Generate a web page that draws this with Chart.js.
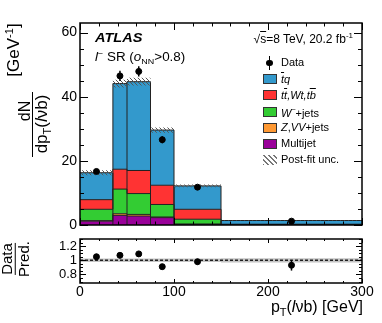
<!DOCTYPE html>
<html>
<head>
<meta charset="utf-8">
<script src="https://cdn.jsdelivr.net/npm/chart.js@4.4.0/dist/chart.umd.min.js"></script>
<style>
  body { margin: 0; background: #fff; }
  #wrap { position: relative; width: 382px; height: 323px; overflow: hidden;
          font-family: 'Liberation Sans', Arial, sans-serif; color: #000; }
  canvas { position: absolute; left: 0; }
  .t { position: absolute; white-space: nowrap; line-height: 1; }
  .rot { position: absolute; white-space: nowrap; line-height: 1;
         transform: translate(-50%, -50%) rotate(-90deg); }
  .box { position: absolute; left: 263px; width: 14px; height: 10px;
         box-sizing: border-box; border: 1px solid #333; }
  .lt { position: absolute; left: 281px; font-size: 11px; line-height: 1; white-space: nowrap; }
  .ol { text-decoration: overline; }
  .sub { font-size: 11px; position: relative; top: 4px; }
</style>
</head>
<body>
<div id="wrap">
  <canvas id="main" width="382" height="234" style="top:0"></canvas>
  <canvas id="ratio" width="382" height="89" style="top:234px"></canvas>

  <!-- y axis titles -->
  <div class="rot" style="left:13px; top:50px; font-size:17px">[GeV<sup style="font-size:11px">-1</sup>]</div>
  <div class="rot" style="left:25px; top:111px; font-size:16px">dN</div>
  <div style="position:absolute; left:32px; top:92px; width:1px; height:65px; background:#000"></div>
  <div class="rot" style="left:41px; top:124px; font-size:17px">dp<span class="sub">T</span>(<i>l</i>&nu;b)</div>
  <div class="rot" style="left:15px; top:259px; font-size:15px; line-height:1.05; text-align:center">
    <span style="border-bottom:1px solid #000; display:inline-block">Data</span><br>Pred.</div>

  <!-- x axis title -->
  <div class="t" style="right:19px; top:299px; font-size:16px">p<span class="sub">T</span>(<i>l</i>&nu;b) [GeV]</div>

  <!-- labels -->
  <div class="t" style="left:95px; top:31px; font-size:13px; font-weight:bold; font-style:italic; transform:scaleX(1.12); transform-origin:left">ATLAS</div>
  <div class="t" style="left:95px; top:50px; font-size:12px; transform:scaleX(1.12); transform-origin:left"><i>l</i><sup style="font-size:8px">&minus;</sup> SR (<i>o</i><span style="font-size:8px; position:relative; top:3px">NN</span>&gt;0.8)</div>
  <div class="t" style="right:29px; top:32px; font-size:12px">&radic;<span class="ol">s</span>=8 TeV, 20.2 fb<sup style="font-size:8px">-1</sup></div>

  <!-- legend -->
  <div style="position:absolute; left:268.5px; top:56px; width:1.5px; height:14px; background:#000"></div>
  <div style="position:absolute; left:266px; top:59.5px; width:6.5px; height:6.5px; border-radius:50%; background:#000"></div>
  <div class="lt" style="top:57px">Data</div>
  <div class="box" style="top:74px; background:#3399CC"></div>
  <div class="lt" style="top:73.5px"><i><span class="ol">t</span>q</i></div>
  <div class="box" style="top:90px; background:#FF3333"></div>
  <div class="lt" style="top:90px"><i>t<span class="ol">t</span>,Wt,t<span class="ol">b</span></i></div>
  <div class="box" style="top:106.5px; background:#33CC33"></div>
  <div class="lt" style="top:106px"><i>W</i><sup style="font-size:7px">&minus;</sup>+jets</div>
  <div class="box" style="top:122.5px; background:#FF9933"></div>
  <div class="lt" style="top:122px"><i>Z</i>,<i>VV</i>+jets</div>
  <div class="box" style="top:138.5px; background:#990099"></div>
  <div class="lt" style="top:138px">Multijet</div>
  <div class="box" style="top:154.5px; border:none; background:repeating-linear-gradient(45deg, #777 0 1px, #fff 1px 3.5px)"></div>
  <div class="lt" style="top:154px">Post-fit unc.</div>
</div>

<script>
// bin edges in pT(lvb) [GeV]
const binEdges = [0, 35, 50, 75, 100, 150, 300];
const binCentres = [17.5, 42.5, 62.5, 87.5, 125, 225];

// stacked predictions, dN/dpT [GeV^-1]
const multijet = [1.2, 3.0, 2.8, 2.3, 0.2, 0.02];
const zvvJets = [0.15, 0.5, 0.5, 0.2, 0.1, 0.02];
const wJets = [3.55, 7.7, 6.5, 3.9, 1.5, 0.06];
const ttbarWtTb = [3.0, 6.2, 7.2, 6.0, 3.1, 0.15];
const tq = [8.4, 26.7, 27.7, 17.2, 7.3, 1.15];
const postFitUnc = [0.8, 1.2, 1.2, 0.8, 0.4, 0.1];

// data
const dataVals = [16.7, 46.5, 47.9, 26.6, 11.8, 1.2];
const dataErr = [0.8, 1.6, 1.6, 1.1, 0.6, 0.15];

// ratio panel
const ratioVals = [1.05, 1.07, 1.09, 0.91, 0.98, 0.93];
const ratioErr = [0.04, 0.04, 0.035, 0.035, 0.04, 0.075];
const ratioUnc = [0.025, 0.025, 0.025, 0.025, 0.025, 0.03];

// tick labels
const mainTicks = [0, 20, 40, 60];
const ratioTicks = [0.8, 1, 1.2];
const xTicks = [0, 100, 200, 300];

const FONT = 'Liberation Sans';

// step points for a histogram
function hist(vals) {
  const pts = vals.map((v, i) => ({ x: binEdges[i], y: v }));
  pts.push({ x: binEdges[binEdges.length - 1], y: vals[vals.length - 1] });
  return pts;
}

const totals = tq.map((_, i) => multijet[i] + zvvJets[i] + wJets[i] + ttbarWtTb[i] + tq[i]);

function makeHatch() {
  const c = document.createElement('canvas');
  c.width = 4; c.height = 4;
  const g = c.getContext('2d');
  g.strokeStyle = '#555';
  g.lineWidth = 1;
  g.beginPath();
  for (let o = -4; o <= 4; o += 4) {
    g.moveTo(o, 0);
    g.lineTo(o + 4, 4);
  }
  g.stroke();
  return g.createPattern(c, 'repeat');
}
const hatch = makeHatch();

function histDataset(label, vals, colour, fill) {
  return {
    label: label,
    data: hist(vals),
    stepped: true,
    borderColor: '#222',
    borderWidth: 1,
    backgroundColor: colour,
    fill: fill,
    pointRadius: 0,
    order: 3
  };
}

// frame with inward ticks on all four sides
const framePlugin = {
  id: 'frame',
  afterDraw(chart, args, o) {
    const { ctx, chartArea: a } = chart;
    const xs = chart.scales.x, ys = chart.scales.y;
    ctx.save();
    ctx.strokeStyle = '#000';
    ctx.lineWidth = 1;
    ctx.beginPath();
    for (let v = xs.min; v <= xs.max; v += 20) {
      const px = Math.round(xs.getPixelForValue(v)) + 0.5;
      const len = v % 100 === 0 ? o.xMajor : o.xMinor;
      ctx.moveTo(px, a.bottom); ctx.lineTo(px, a.bottom - len);
      ctx.moveTo(px, a.top); ctx.lineTo(px, a.top + len);
    }
    const k0 = Math.ceil(ys.min / o.yMinorStep - 1e-6), k1 = Math.floor(ys.max / o.yMinorStep + 1e-6);
    for (let k = k0; k <= k1; k++) {
      const v = k * o.yMinorStep;
      const r = v / o.yMajorStep;
      const len = Math.abs(r - Math.round(r)) < 1e-6 ? o.yMajor : o.yMinor;
      const py = Math.round(ys.getPixelForValue(v)) + 0.5;
      ctx.moveTo(a.left, py); ctx.lineTo(a.left + len, py);
      ctx.moveTo(a.right, py); ctx.lineTo(a.right - len, py);
    }
    ctx.stroke();
    ctx.lineWidth = 1.5;
    ctx.strokeRect(a.left, a.top, a.width, a.height);
    ctx.restore();
  }
};

// vertical error bars for datasets carrying an "errors" array
const errorBars = {
  id: 'errorBars',
  afterDatasetsDraw(chart) {
    const ctx = chart.ctx;
    chart.data.datasets.forEach((ds, i) => {
      if (!ds.errors) return;
      const meta = chart.getDatasetMeta(i);
      const ys = chart.scales[meta.yAxisID];
      ctx.save();
      ctx.strokeStyle = '#000';
      ctx.lineWidth = 1.5;
      meta.data.forEach((pt, j) => {
        const v = ds.data[j].y, e = ds.errors[j];
        ctx.beginPath();
        ctx.moveTo(pt.x, ys.getPixelForValue(v + e));
        ctx.lineTo(pt.x, ys.getPixelForValue(v - e));
        ctx.stroke();
      });
      ctx.restore();
    });
  }
};

// bin edges through the stack
const binLines = {
  id: 'binLines',
  afterDatasetDraw(chart, args, o) {
    if (!o.on || args.index !== 0) return;
    const ctx = chart.ctx, xs = chart.scales.x, ys = chart.scales.y;
    ctx.save();
    ctx.strokeStyle = '#222';
    ctx.lineWidth = 1;
    ctx.beginPath();
    for (let i = 1; i < binEdges.length - 1; i++) {
      const px = xs.getPixelForValue(binEdges[i]);
      ctx.moveTo(px, ys.getPixelForValue(0));
      ctx.lineTo(px, ys.getPixelForValue(Math.min(totals[i - 1], totals[i])));
    }
    ctx.stroke();
    ctx.restore();
  }
};

// keep chart area where it is set by the layout padding
function noPad(s) {
  s.paddingTop = 0;
  s.paddingBottom = 0;
  s.paddingLeft = 0;
  s.paddingRight = 0;
}

const tickFont = { family: FONT, size: 14 };

new Chart(document.getElementById('main'), {
  type: 'line',
  data: {
    datasets: [
      histDataset('Multijet', multijet, '#990099', 'origin'),
      histDataset('Z,VV+jets', zvvJets, '#FF9933', '-1'),
      histDataset('W+jets', wJets, '#33CC33', '-1'),
      histDataset('tt,Wt,tb', ttbarWtTb, '#FF3333', '-1'),
      histDataset('tq', tq, '#3399CC', '-1'),
      {
        label: 'unc low',
        data: hist(totals.map((t, i) => t - postFitUnc[i])),
        yAxisID: 'yu', stepped: true, borderColor: 'rgba(0,0,0,0)',
        pointRadius: 0, fill: false, order: 2
      },
      {
        label: 'Post-fit unc.',
        data: hist(totals.map((t, i) => t + postFitUnc[i])),
        yAxisID: 'yu', stepped: true, borderColor: 'rgba(0,0,0,0)',
        backgroundColor: hatch, pointRadius: 0, fill: '-1', order: 2
      },
      {
        label: 'Data',
        data: binCentres.map((x, i) => ({ x: x, y: dataVals[i] })),
        errors: dataErr,
        yAxisID: 'yu', showLine: false, pointRadius: 3,
        backgroundColor: '#000', borderColor: '#000', order: 1
      }
    ]
  },
  options: {
    responsive: false,
    animation: false,
    events: [],
    layout: { padding: { top: 23, right: 20, bottom: 9, left: 0 } },
    plugins: {
      legend: { display: false },
      tooltip: { enabled: false },
      frame: { xMajor: 7, xMinor: 3.5, yMajorStep: 20, yMinorStep: 5, yMajor: 8, yMinor: 4 },
      binLines: { on: true }
    },
    scales: {
      x: { type: 'linear', min: 0, max: 300, display: false },
      y: {
        stacked: true, min: 0, max: 63,
        afterFit: s => { s.width = 80; noPad(s); },
        afterBuildTicks: s => { s.ticks = mainTicks.map(v => ({ value: v })); },
        grid: { display: false, drawTicks: false },
        border: { display: false },
        ticks: { color: '#000', font: tickFont, padding: 3, callback: v => String(v) }
      },
      yu: { min: 0, max: 63, display: false }
    }
  },
  plugins: [framePlugin, errorBars, binLines]
});

new Chart(document.getElementById('ratio'), {
  type: 'line',
  data: {
    datasets: [
      {
        data: hist(ratioUnc.map(u => 1 - u)), stepped: true,
        borderColor: 'rgba(0,0,0,0)', pointRadius: 0, fill: false, order: 3
      },
      {
        data: hist(ratioUnc.map(u => 1 + u)), stepped: true,
        borderColor: 'rgba(0,0,0,0)', backgroundColor: '#c4c4c4',
        pointRadius: 0, fill: '-1', order: 3
      },
      {
        data: [{ x: 0, y: 1 }, { x: 300, y: 1 }],
        borderColor: '#222', borderWidth: 1.5, borderDash: [3, 2],
        pointRadius: 0, fill: false, order: 2
      },
      {
        data: binCentres.map((x, i) => ({ x: x, y: ratioVals[i] })),
        errors: ratioErr,
        showLine: false, pointRadius: 3,
        backgroundColor: '#000', borderColor: '#000', order: 1
      }
    ]
  },
  options: {
    responsive: false,
    animation: false,
    events: [],
    layout: { padding: { top: 3, right: 20, bottom: 0, left: 0 } },
    plugins: {
      legend: { display: false },
      tooltip: { enabled: false },
      frame: { xMajor: 4, xMinor: 2, yMajorStep: 0.2, yMinorStep: 0.05, yMajor: 6, yMinor: 3 }
    },
    scales: {
      x: {
        type: 'linear', min: 0, max: 300,
        afterFit: s => { s.height = 40; noPad(s); },
        afterBuildTicks: s => { s.ticks = xTicks.map(v => ({ value: v })); },
        grid: { display: false, drawTicks: false },
        border: { display: false },
        ticks: { color: '#000', font: tickFont, padding: 1, maxRotation: 0, autoSkip: false, callback: v => String(v) }
      },
      y: {
        min: 0.68, max: 1.3,
        afterFit: s => { s.width = 80; noPad(s); },
        afterBuildTicks: s => { s.ticks = ratioTicks.map(v => ({ value: v })); },
        grid: { display: false, drawTicks: false },
        border: { display: false },
        ticks: { color: '#000', font: { family: FONT, size: 13 }, padding: 3, callback: v => String(v) }
      }
    }
  },
  plugins: [framePlugin, errorBars]
});
</script>
</body>
</html>
